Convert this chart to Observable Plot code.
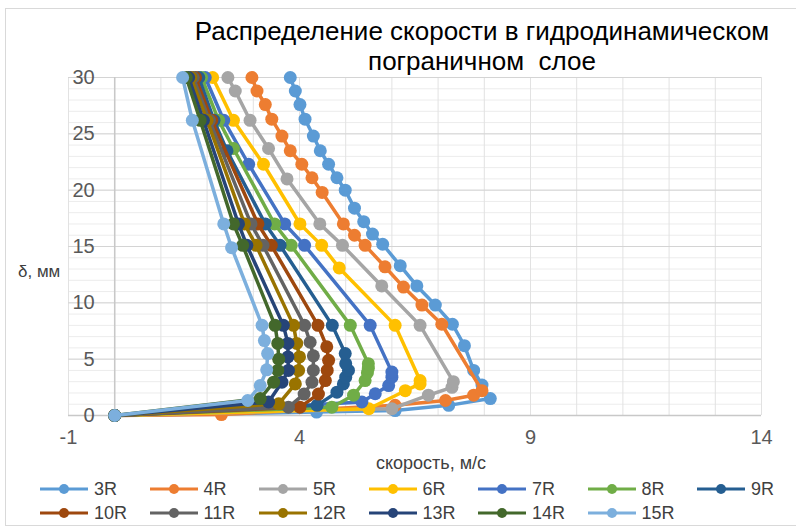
<!DOCTYPE html>
<html><head><meta charset="utf-8">
<script src="https://cdn.jsdelivr.net/npm/d3@7"></script>
<script src="https://cdn.jsdelivr.net/npm/@observablehq/plot@0.6"></script>
<style>
html,body{margin:0;padding:0;background:#fff;}
#wrap{position:relative;width:796px;height:531px;overflow:hidden;font-family:"Liberation Sans",Arial,sans-serif;}
#border{position:absolute;left:5px;top:8px;width:800px;height:518px;border:1px solid #d9d9d9;box-sizing:border-box;}
#title{position:absolute;left:132px;width:700px;top:16px;text-align:center;font-size:26px;line-height:30px;color:#000;}
#ylab{position:absolute;left:18px;top:262px;font-size:17px;color:#404040;}
#xlab{position:absolute;left:321px;width:220px;top:453px;text-align:center;font-size:18px;color:#404040;}
#legend{position:absolute;left:40px;top:477px;width:770px;display:flex;flex-wrap:wrap;}
.li{width:109.5px;height:24px;display:flex;align-items:center;font-size:18px;color:#404040;}
.li svg{margin-right:6px;}
#chart{position:absolute;left:0;top:0;}
</style></head>
<body><div id="wrap"><div id="border"></div><div id="chart"></div><div id="title">Распределение скорости в гидродинамическом<br>пограничном&nbsp; слое</div><div id="ylab">δ, мм</div><div id="xlab">скорость, м/с</div><div id="legend"></div></div>
<script>
// Series names and colours
const seriesNames = ["3R","4R","5R","6R","7R","8R","9R","10R","11R","12R","13R","14R","15R"];
const seriesColors = ["#5B9BD5","#ED7D31","#A5A5A5","#FFC000","#4472C4","#70AD47","#255E91","#9E480E","#636363","#997300","#264478","#43682B","#7CAFDD"];
// velocity (m/s) and boundary-layer coordinate δ (mm) per series
const v3R  = [0, 4.37, 6.07, 7.23, 8.13, 7.95, 7.77, 7.57, 7.31, 6.94, 6.54, 6.18, 5.80, 5.58, 5.39, 5.19, 4.99, 4.81, 4.63, 4.45, 4.30, 4.12, 4.01, 3.91, 3.80];
const d3R  = [0, 0.30, 0.44, 0.90, 1.50, 2.70, 4.00, 6.20, 8.10, 9.80, 11.5, 13.3, 15.2, 16.1, 17.2, 18.4, 20.0, 21.1, 22.3, 23.5, 24.8, 26.3, 27.6, 28.8, 30.0];
const v4R  = [0, 2.31, 6.07, 7.16, 7.77, 7.95, 7.08, 6.65, 6.25, 5.85, 5.42, 5.19, 4.95, 4.49, 4.27, 4.05, 3.80, 3.62, 3.40, 3.26, 3.08, 2.97];
const d4R  = [0, 0.08, 0.90, 1.33, 1.80, 2.20, 8.10, 9.80, 11.4, 13.2, 15.1, 16.0, 17.0, 19.8, 21.1, 22.3, 23.5, 24.8, 26.3, 27.6, 28.8, 30.0];
const v5R  = [0, 6.00, 6.79, 7.30, 7.33, 6.61, 5.78, 4.93, 4.44, 3.73, 3.33, 2.93, 2.61, 2.45];
const d5R  = [0, 0.60, 1.80, 2.50, 3.00, 8.00, 11.5, 15.1, 17.0, 21.0, 23.7, 26.2, 28.8, 30.0];
const v6R  = [0, 5.50, 6.29, 6.61, 6.61, 6.07, 4.86, 4.48, 4.01, 3.22, 2.57, 2.12];
const d6R  = [0, 0.60, 2.20, 2.80, 3.10, 8.00, 13.1, 15.1, 17.0, 22.3, 26.2, 30.0];
const v7R  = [0, 5.35, 5.64, 5.93, 6.00, 6.00, 5.53, 4.11, 3.68, 2.90, 2.36, 1.96];
const d7R  = [0, 1.20, 1.93, 2.66, 3.40, 3.85, 8.00, 15.1, 17.0, 22.3, 26.2, 30.0];
const v8R  = [0, 4.70, 5.17, 5.42, 5.47, 5.49, 5.49, 5.10, 3.82, 3.46, 2.57, 2.25, 1.88];
const d8R  = [0, 0.74, 1.80, 3.10, 3.80, 4.20, 4.60, 8.00, 15.1, 17.0, 23.7, 26.2, 30.0];
const v9R  = [0, 4.38, 4.81, 4.95, 5.00, 5.06, 5.00, 4.99, 4.71, 3.58, 3.26, 2.43, 2.15, 1.82];
const d9R  = [0, 0.90, 2.07, 2.80, 3.40, 4.00, 4.60, 5.50, 8.00, 15.1, 17.0, 23.5, 26.2, 30.0];
const v10R = [0, 4.01, 4.41, 4.56, 4.60, 4.63, 4.59, 4.40, 3.39, 3.10, 2.10, 1.75];
const d10R = [0, 0.74, 1.90, 3.10, 4.00, 4.90, 6.10, 8.00, 15.1, 17.0, 26.2, 30.0];
const v11R = [0, 3.76, 4.10, 4.27, 4.30, 4.30, 4.23, 4.11, 3.21, 2.95, 2.05, 1.70];
const d11R = [0, 0.74, 1.90, 2.96, 4.00, 5.30, 6.50, 8.00, 15.1, 17.0, 26.2, 30.0];
const v12R = [0, 3.55, 3.91, 3.98, 4.00, 3.94, 3.87, 3.06, 2.81, 2.00, 1.65];
const d12R = [0, 1.04, 2.80, 4.00, 5.20, 6.40, 8.00, 15.1, 17.0, 26.2, 30.0];
const v13R = [0, 3.33, 3.62, 3.76, 3.75, 3.75, 3.65, 2.86, 2.68, 1.92, 1.60];
const d13R = [0, 1.20, 2.96, 4.00, 5.20, 6.40, 8.00, 15.1, 17.0, 26.2, 30.0];
const v14R = [0, 3.15, 3.44, 3.53, 3.55, 3.53, 3.47, 2.77, 2.57, 1.85, 1.55];
const d14R = [0, 1.50, 2.96, 4.00, 5.00, 6.40, 8.00, 15.1, 17.0, 26.2, 30.0];
const v15R = [0, 2.88, 3.15, 3.29, 3.31, 3.24, 3.19, 2.53, 2.36, 1.68, 1.47];
const d15R = [0, 1.33, 2.66, 4.05, 5.50, 6.65, 8.00, 14.9, 17.0, 26.2, 30.0];
// Axis ticks
const xTickLabels = [-1, 4, 9, 14];
const yTickLabels = [0, 5, 10, 15, 20, 25, 30];
const xGrid = d3.range(-1, 15, 1);
const yGridMinor = d3.range(0, 31, 1);
const yAxisCross = 0;

const vArr = [v3R,v4R,v5R,v6R,v7R,v8R,v9R,v10R,v11R,v12R,v13R,v14R,v15R];
const dArr = [d3R,d4R,d5R,d6R,d7R,d8R,d9R,d10R,d11R,d12R,d13R,d14R,d15R];
const tables = seriesNames.map((s,i)=>vArr[i].map((v,j)=>({s, v, d: dArr[i][j]})));

const seriesMarks = [];
tables.forEach((t,i)=>{
  seriesMarks.push(Plot.line(t,{x:"v",y:"d",stroke:seriesColors[i],strokeWidth:3.5,curve:"linear"}));
  seriesMarks.push(Plot.dot(t,{x:"v",y:"d",fill:seriesColors[i],r:6.5}));
});

const chart = Plot.plot({
  width:796, height:531,
  marginLeft:68, marginRight:35, marginTop:77, marginBottom:116,
  x:{domain:[-1,14], axis:null}, y:{domain:[0,30], axis:null},
  style:{fontFamily:"Liberation Sans, Arial, sans-serif", background:"transparent"},
  marks:[
    Plot.ruleY(yGridMinor,{stroke:"#ececec",strokeWidth:1}),
    Plot.ruleX(xGrid,{stroke:"#e2e2e2",strokeWidth:1}),
    Plot.ruleY(yTickLabels,{stroke:"#d4d4d4",strokeWidth:1}),
    Plot.ruleX([yAxisCross],{stroke:"#c8c8c8",strokeWidth:1.5}),
    Plot.ruleY([0],{stroke:"#c8c8c8",strokeWidth:1.5}),
    Plot.text(xTickLabels,{x:d=>d,frameAnchor:"bottom",dy:28,text:d=>String(d),textAnchor:"middle",fontSize:20,fill:"#595959"}),
    Plot.text(yTickLabels,{x:()=>yAxisCross,y:d=>d,text:d=>String(d),textAnchor:"end",dx:-20,fontSize:20,fill:"#595959"}),
    ...seriesMarks
  ]
});
document.getElementById("chart").appendChild(chart);

const leg = document.getElementById("legend");
seriesNames.forEach((s,i)=>{
  const div = document.createElement("div"); div.className="li";
  div.innerHTML = `<svg width="48" height="14"><line x1="0" y1="7" x2="48" y2="7" stroke="${seriesColors[i]}" stroke-width="3"/><circle cx="24" cy="7" r="5" fill="${seriesColors[i]}"/></svg><span>${s}</span>`;
  leg.appendChild(div);
});
</script></body></html>
